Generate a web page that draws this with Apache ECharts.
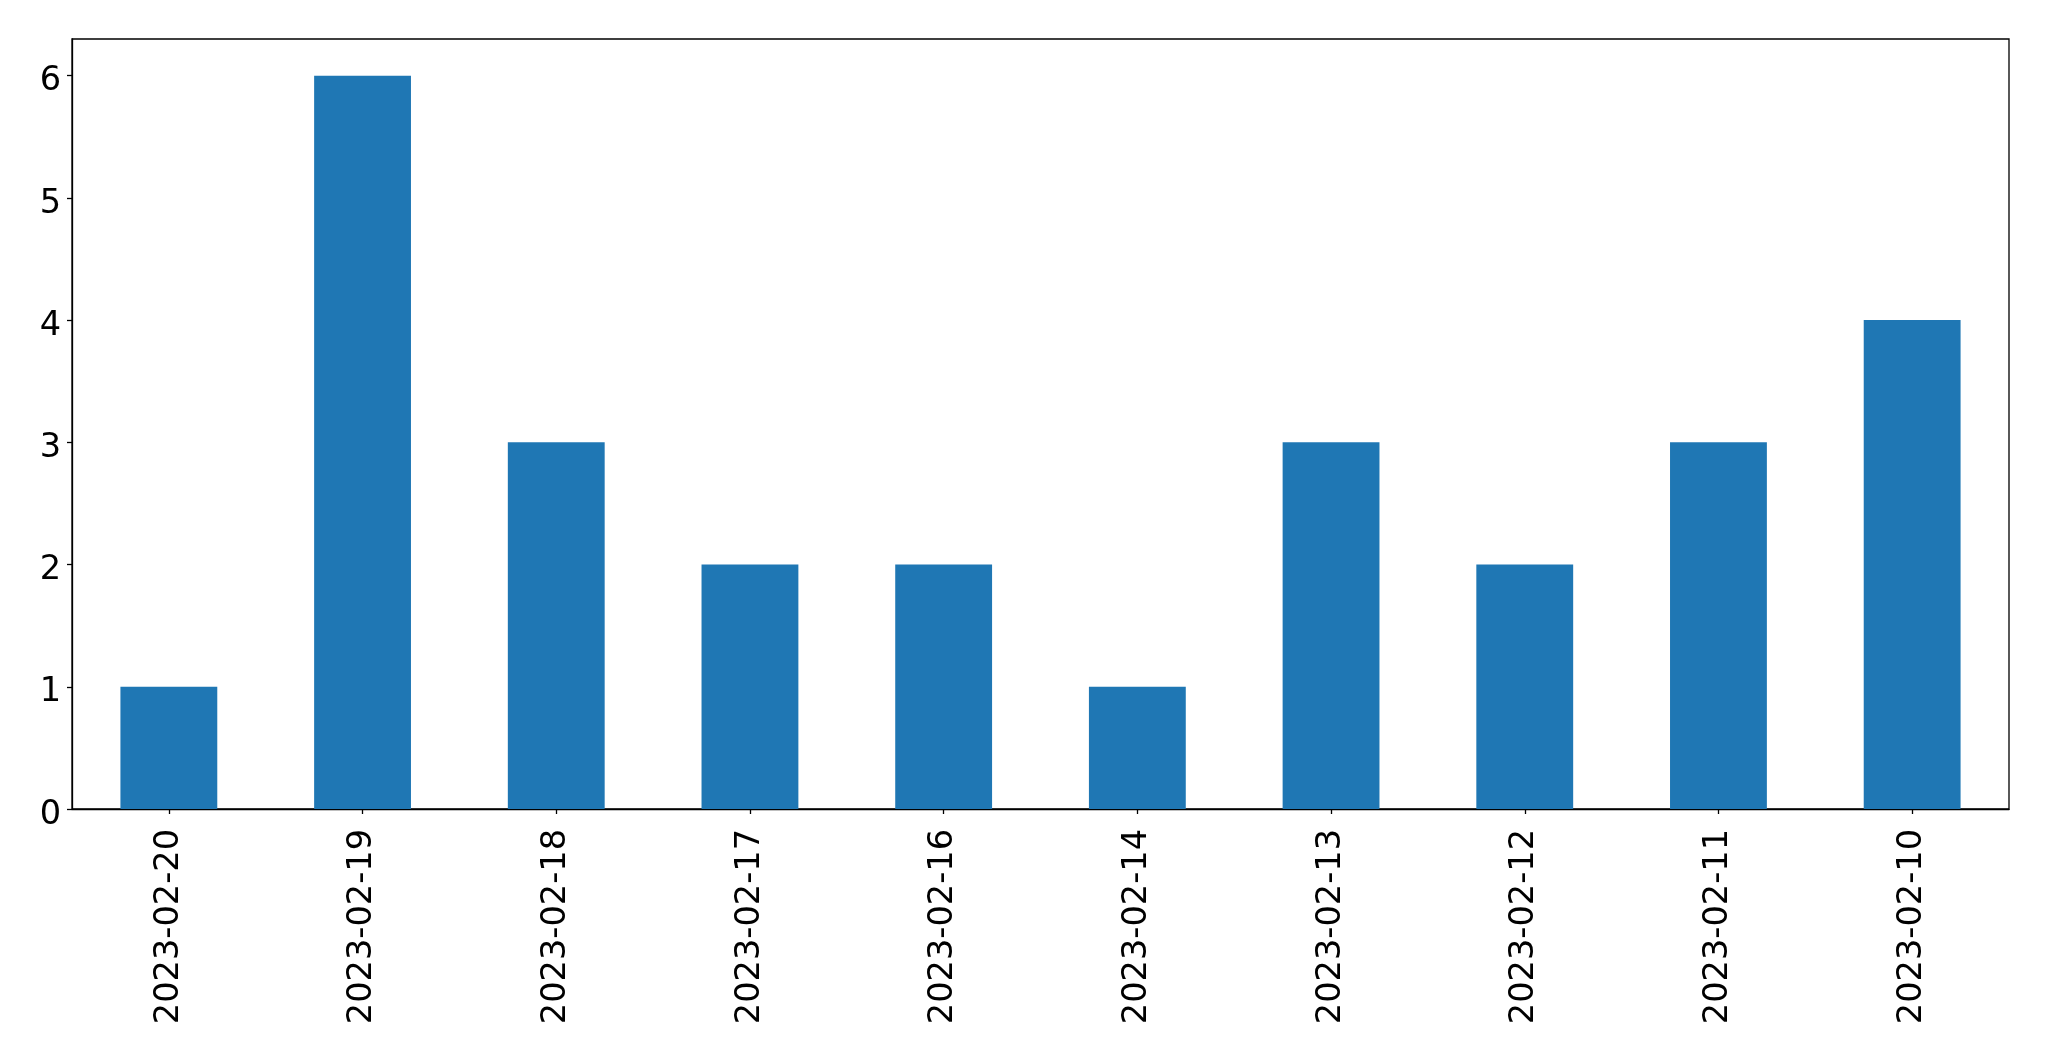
<!DOCTYPE html>
<html>
<head>
<meta charset="utf-8">
<script src="https://cdn.jsdelivr.net/npm/echarts@6/dist/echarts.min.js"></script>
<style>html,body{margin:0;padding:0;background:#fff}#c{width:2049px;height:1061px}</style>
</head>
<body>
<div id="c"></div>
<script>
const categories = ['2023-02-20','2023-02-19','2023-02-18','2023-02-17','2023-02-16','2023-02-14','2023-02-13','2023-02-12','2023-02-11','2023-02-10'];
const values = [1, 6, 3, 2, 2, 1, 3, 2, 3, 4];
const yMax = 6.3;

const chart = echarts.init(document.getElementById('c'), null, {renderer: 'canvas'});
const font = 'DejaVu Sans';
chart.setOption({
  animation: false,
  backgroundColor: '#ffffff',
  grid: {left: 72, right: 40, top: 39, bottom: 252, show: true, borderColor: '#000', borderWidth: 1.3, containLabel: false},
  xAxis: {
    type: 'category',
    data: categories,
    boundaryGap: true,
    axisLine: {show: true, lineStyle: {color: '#000', width: 1.3}},
    axisTick: {show: true, alignWithLabel: true, length: 5, lineStyle: {color: '#000', width: 1.3}},
    axisLabel: {rotate: 90, fontSize: 33.6, fontFamily: font, color: '#000', margin: 20, interval: 0},
    splitLine: {show: false}
  },
  yAxis: {
    type: 'value',
    min: 0, max: yMax, interval: 1,
    axisLine: {show: true, lineStyle: {color: '#000', width: 1.3}},
    axisTick: {show: true, length: 5, lineStyle: {color: '#000', width: 1.3}},
    axisLabel: {fontSize: 33.6, fontFamily: font, color: '#000', margin: 11, showMaxLabel: false,
      formatter: v => (Math.abs(v - Math.round(v)) < 1e-9 ? '{a|' + Math.round(v) + '}' : ''),
      rich: {a: {fontSize: 33.6, fontFamily: font, color: '#000', padding: [12, 0, 0, 0]}}},
    splitLine: {show: false}
  },
  series: [{
    type: 'bar',
    data: values,
    barWidth: '50%',
    itemStyle: {color: '#1f77b4'}
  }]
});
</script>
</body>
</html>
